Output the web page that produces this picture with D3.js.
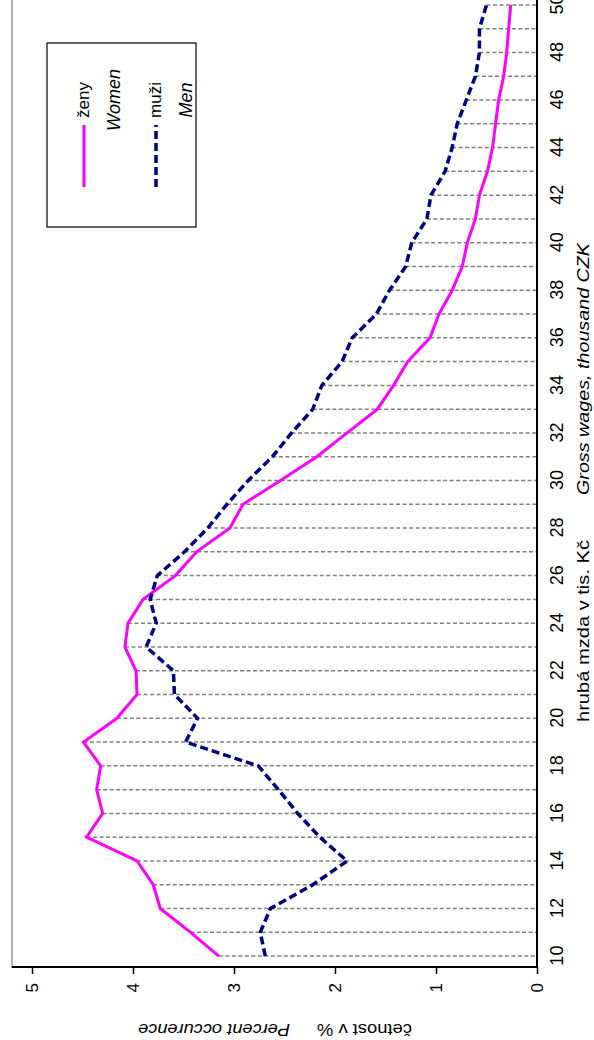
<!DOCTYPE html>
<html><head><meta charset="utf-8">
<script src="https://cdn.jsdelivr.net/npm/d3@7/dist/d3.min.js"></script>
<style>html,body{margin:0;padding:0;background:#fff;overflow:hidden}</style>
</head><body>
<svg id="c" width="594" height="1040"></svg>
<script>
// Data
const wages = [10,11,12,13,14,15,16,17,18,19,20,21,22,23,24,25,26,27,28,29,30,31,32,33,34,35,36,37,38,39,40,41,42,43,44,45,46,47,48,49,50];
const women = [3.15,3.43,3.73,3.80,3.96,4.46,4.30,4.36,4.32,4.49,4.16,3.96,3.97,4.08,4.05,3.90,3.58,3.37,3.04,2.91,2.54,2.18,1.88,1.58,1.42,1.28,1.06,0.97,0.84,0.74,0.69,0.61,0.57,0.49,0.44,0.41,0.38,0.33,0.30,0.28,0.26];
const men = [2.69,2.74,2.64,2.22,1.88,2.15,2.37,2.56,2.76,3.48,3.36,3.59,3.60,3.87,3.77,3.83,3.76,3.49,3.26,3.07,2.86,2.62,2.43,2.22,2.13,1.93,1.83,1.59,1.46,1.30,1.24,1.09,1.05,0.91,0.84,0.79,0.70,0.61,0.57,0.57,0.50];
const wageTickLabels = [10,12,14,16,18,20,22,24,26,28,30,32,34,36,38,40,42,44,46,48,50];
const pctTicks = [0,1,2,3,4,5];
const seriesNames = [["ženy","Women"],["muži","Men"]];
const xTitle = ["hrubá mzda v tis. Kč","Gross wages, thousand CZK"];
const yTitle = ["četnost v %","Percent occurence"];

const FONT = "'Liberation Sans', Arial, sans-serif";
const svg = d3.select('#c');
// Chart drawn in its natural orientation, then turned 90° counter-clockwise
const g = svg.append('g').attr('transform','translate(0,1040) rotate(-90)');

const x = d3.scalePoint().domain(wages).range([72, 1047]).padding(0.5);
const y = d3.scaleLinear().domain([0,5]).range([537, 32]);

// plot area top border (gray)
g.append('line').attr('x1',72).attr('x2',1047).attr('y1',12).attr('y2',12)
  .attr('stroke','#8c8c8c').attr('stroke-width',1.3);

// drop lines
g.append('g').selectAll('line').data(wages).join('line')
  .attr('x1',(d)=>x(d)).attr('x2',(d)=>x(d))
  .attr('y1',(d,i)=>y(Math.max(women[i],men[i]))).attr('y2',y(0))
  .attr('stroke','#808080').attr('stroke-width',1.5).attr('stroke-dasharray','4,2.5');

// axes lines
const yAxis = d3.axisLeft(y).tickValues(pctTicks).tickSize(7).tickFormat(d3.format('d'));
const yAx = g.append('g').attr('transform','translate(73,0)').call(yAxis);
yAx.select('.domain').remove();
yAx.selectAll('.tick line').attr('stroke','#000').attr('stroke-width',1.5);
yAx.selectAll('.tick text').remove();
g.append('line').attr('x1',73).attr('x2',73).attr('y1',12).attr('y2',538)
  .attr('stroke','#000').attr('stroke-width',2);
g.append('line').attr('x1',72).attr('x2',1047).attr('y1',537).attr('y2',537)
  .attr('stroke','#000').attr('stroke-width',2);

// percent tick labels
g.append('g').selectAll('text').data(pctTicks).join('text')
  .attr('x',57).attr('y',d=>y(d)).attr('dy','0.36em')
  .attr('text-anchor','end').attr('font-family',FONT).attr('font-size',17)
  .text(d=>d);

// wage tick labels
const xAxis = d3.axisBottom(x).tickValues(wageTickLabels).tickSize(0);
const xAx = g.append('g').attr('transform','translate(0,537)').call(xAxis);
xAx.select('.domain').remove();
xAx.selectAll('.tick text').attr('y',26).attr('dy',0).attr('font-family',FONT).attr('font-size',18).attr('fill','#000');

// lines
const line = d3.line().x((d,i)=>x(wages[i])).y(d=>y(d));
g.append('path').datum(women).attr('d',line).attr('fill','none')
  .attr('stroke','#FF00FF').attr('stroke-width',3).attr('stroke-linejoin','miter');
g.append('path').datum(men).attr('d',line).attr('fill','none')
  .attr('stroke','#000080').attr('stroke-width',3.5).attr('stroke-dasharray','8,4');

// axis titles
g.append('text').attr('x',318).attr('y',589).attr('font-family',FONT).attr('font-size',17)
  .attr('textLength',182).attr('lengthAdjust','spacingAndGlyphs').text(xTitle[0]);
g.append('text').attr('x',545).attr('y',589).attr('font-family',FONT).attr('font-size',17)
  .attr('font-style','italic').attr('textLength',252).attr('lengthAdjust','spacingAndGlyphs').text(xTitle[1]);

g.append('text').attr('transform','translate(16,412) rotate(-90)').attr('font-family',FONT).attr('font-size',17)
  .attr('textLength',95).attr('lengthAdjust','spacingAndGlyphs').text(yTitle[0]);
g.append('text').attr('transform','translate(16,290) rotate(-90)').attr('font-family',FONT).attr('font-size',17)
  .attr('font-style','italic').attr('textLength',152).attr('lengthAdjust','spacingAndGlyphs').text(yTitle[1]);

// legend
const lg = g.append('g');
lg.append('rect').attr('x',813).attr('y',47).attr('width',184).attr('height',149)
  .attr('fill','#fff').attr('stroke','#000').attr('stroke-width',1.2);
const legY = [84,156];
const legStyle = [{c:'#FF00FF',w:3,d:null},{c:'#000080',w:3.5,d:'8,4'}];
seriesNames.forEach((nm,i)=>{
  lg.append('line').attr('x1',853).attr('x2',915).attr('y1',legY[i]).attr('y2',legY[i])
    .attr('stroke',legStyle[i].c).attr('stroke-width',legStyle[i].w).attr('stroke-dasharray',legStyle[i].d);
  lg.append('text').attr('x',940).attr('y',legY[i]+5).attr('text-anchor','middle')
    .attr('font-family',FONT).attr('font-size',17).text(nm[0]);
  lg.append('text').attr('x',940).attr('y',legY[i]+36).attr('text-anchor','middle')
    .attr('font-family',FONT).attr('font-size',18).attr('font-style','italic').text(nm[1]);
});
</script>
</body></html>
